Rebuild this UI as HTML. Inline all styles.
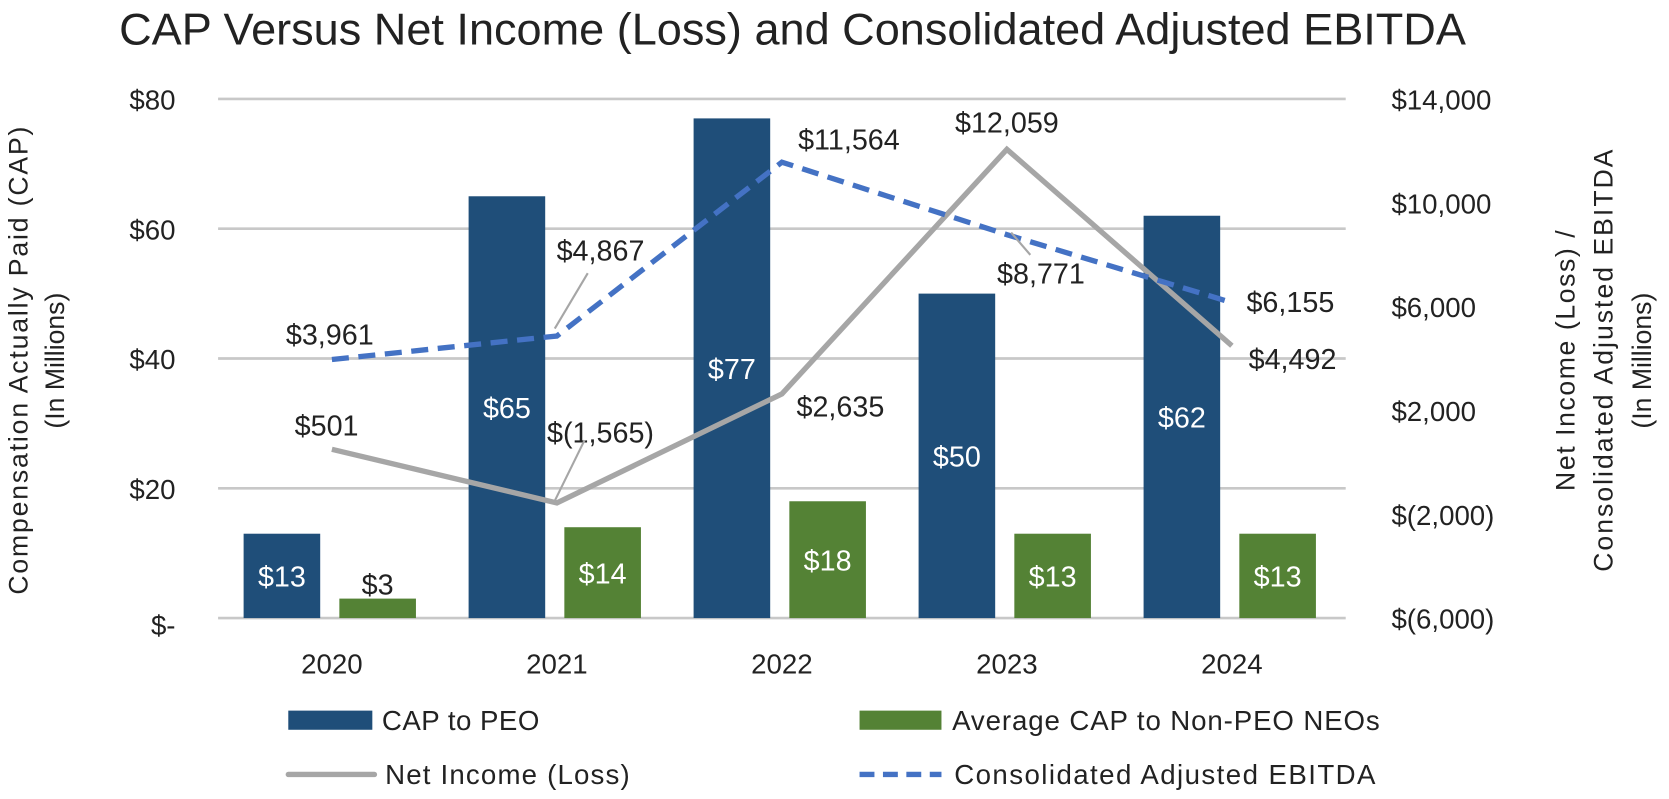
<!DOCTYPE html>
<html><head><meta charset="utf-8"><style>
body{margin:0;background:#fff;}
svg text{font-family:"Liberation Sans",sans-serif;}
</style></head><body>
<svg id="chart" width="1669" height="794" xmlns="http://www.w3.org/2000/svg">
<g transform="scale(1.0638)">
<text x="112" y="42" font-size="42" fill="#222" textLength="1266" lengthAdjust="spacingAndGlyphs">CAP Versus Net Income (Loss) and Consolidated Adjusted EBITDA</text>
<g id="grid"></g><g id="bars"></g><g id="lines"></g><g id="labels"></g>
<text transform="translate(26,339) rotate(-90)" text-anchor="middle" font-size="25" fill="#222" textLength="440">Compensation Actually Paid (CAP)</text>
<text transform="translate(60,339) rotate(-90)" text-anchor="middle" font-size="25" fill="#222">(In Millions)</text>
<text transform="translate(1480,339) rotate(-90)" text-anchor="middle" font-size="25" fill="#222" textLength="245">Net Income (Loss) /</text>
<text transform="translate(1516,339) rotate(-90)" text-anchor="middle" font-size="25" fill="#222" textLength="397">Consolidated Adjusted EBITDA</text>
<text transform="translate(1552,339) rotate(-90)" text-anchor="middle" font-size="25" fill="#222">(In Millions)</text>
<g>
<rect x="271" y="668" width="79" height="18" fill="#1f4e79"/>
<text x="359" y="686" font-size="26" fill="#222" textLength="148">CAP to PEO</text>
<rect x="808" y="668" width="77" height="18" fill="#548235"/>
<text x="895" y="686" font-size="26" fill="#222" textLength="402">Average CAP to Non-PEO NEOs</text>
<line x1="271" y1="728" x2="352" y2="728" stroke="#a6a6a6" stroke-width="5" stroke-linecap="round"/>
<text x="362" y="737" font-size="26" fill="#222" textLength="230">Net Income (Loss)</text>
<line x1="808" y1="728" x2="885" y2="728" stroke="#4472c4" stroke-width="5" stroke-dasharray="14,8"/>
<text x="897" y="737" font-size="26" fill="#222" textLength="396">Consolidated Adjusted EBITDA</text>
</g>
</g>
</svg>
<script>
const categories=["2020","2021","2022","2023","2024"];
const capPeo=[13,65,77,50,62];
const capNeo=[3,14,18,13,13];
const netIncome=[501,-1565,2635,12059,4492];
const ebitda=[3961,4867,11564,8771,6155];
const netIncomeLabels=["$501","$(1,565)","$2,635","$12,059","$4,492"];
const ebitdaLabels=["$3,961","$4,867","$11,564","$8,771","$6,155"];
const leftTicks=["$-","$20","$40","$60","$80"];
const rightTicks=["$(6,000)","$(2,000)","$2,000","$6,000","$10,000","$14,000"];
(function(){
const NS="http://www.w3.org/2000/svg";
const plotTop=93,plotBot=581,x0=205,x1=1265;
const yL=v=>plotBot-(v/80)*(plotBot-plotTop);
const yR=v=>plotBot-((v+6000)/20000)*(plotBot-plotTop);
const xC=i=>312+i*211.5;
function mk(t,a,p){const e=document.createElementNS(NS,t);for(const k in a)e.setAttribute(k,a[k]);p.appendChild(e);return e;}
const grid=document.getElementById('grid'),bars=document.getElementById('bars'),lines=document.getElementById('lines'),labs=document.getElementById('labels');
leftTicks.forEach((t,i)=>{const y=yL(i*20);
 const g=mk('line',{x1:x0,x2:x1,y1:y,y2:y,stroke:'#c8c8c8','stroke-width':2.5},grid);
 
 
 const l=mk('text',{x:165,y:y+10+(i===0?6:0),'text-anchor':'end','font-size':26,fill:'#222'},grid);l.textContent=t;
 
 });
rightTicks.forEach((t,i)=>{const y=yR(-6000+i*4000);
 const l=mk('text',{x:1308,y:y+10,'font-size':26,fill:'#222'},grid);l.textContent=t;
 
 });
categories.forEach((c,i)=>{
 const l=mk('text',{x:xC(i),y:633,'text-anchor':'middle','font-size':26,fill:'#222'},grid);l.textContent=c;
 
 
 const cx1=xC(i)-47,cx2=xC(i)+43,w=72;
 const b1=mk('rect',{x:cx1-w/2,y:yL(capPeo[i]),width:w,height:plotBot-yL(capPeo[i]),fill:'#1f4e79'},bars);
 
 
 const b2=mk('rect',{x:cx2-w/2,y:yL(capNeo[i]),width:w,height:plotBot-yL(capNeo[i]),fill:'#548235'},bars);
 
 
 const t1=mk('text',{x:cx1,y:(yL(capPeo[i])+plotBot)/2+10,'text-anchor':'middle','font-size':27,fill:'#fff'},labs);t1.textContent='$'+capPeo[i];
 
 
 const small=capNeo[i]<8;
 const t2=mk('text',{x:cx2,y:small?yL(capNeo[i])-4:(yL(capNeo[i])+plotBot)/2+10,'text-anchor':'middle','font-size':27,fill:small?'#222':'#fff'},labs);t2.textContent='$'+capNeo[i];
 
 
});
const pn=netIncome.map((v,i)=>xC(i)+','+yR(v)).join(' ');
const ln=mk('polyline',{points:pn,fill:'none',stroke:'#a6a6a6','stroke-width':5},lines);


const pe=ebitda.map((v,i)=>xC(i)+','+yR(v)).join(' ');
const le=mk('polyline',{points:pe,fill:'none',stroke:'#4472c4','stroke-width':5,'stroke-dasharray':'16,9'},lines);


const niOff=[[-5,-13],[41,-57],[55,21],[0,-16],[57,22]];
const ebOff=[[-2,-14],[41,-71],[63,-12],[32,46],[55,9]];
netIncome.forEach((v,i)=>{const t=mk('text',{x:xC(i)+niOff[i][0],y:yR(v)+niOff[i][1],'text-anchor':'middle','font-size':27,fill:'#222'},labs);t.textContent=netIncomeLabels[i];
 
 });
ebitda.forEach((v,i)=>{const t=mk('text',{x:xC(i)+ebOff[i][0],y:yR(v)+ebOff[i][1],'text-anchor':'middle','font-size':27,fill:'#222'},labs);t.textContent=ebitdaLabels[i];
 
 });
const l1=mk('line',{x1:xC(1)-2,y1:yR(netIncome[1])-2,x2:xC(1)+26,y2:yR(netIncome[1])-59,stroke:'#a6a6a6','stroke-width':2},labs);


const l2=mk('line',{x1:xC(1)-2,y1:yR(ebitda[1])-7,x2:xC(1)+29,y2:yR(ebitda[1])-59,stroke:'#a6a6a6','stroke-width':2},labs);


const l3=mk('line',{x1:xC(3)+4,y1:yR(ebitda[3])-2,x2:xC(3)+22,y2:yR(ebitda[3])+19,stroke:'#a6a6a6','stroke-width':2},labs);


})();
</script>
</body></html>
